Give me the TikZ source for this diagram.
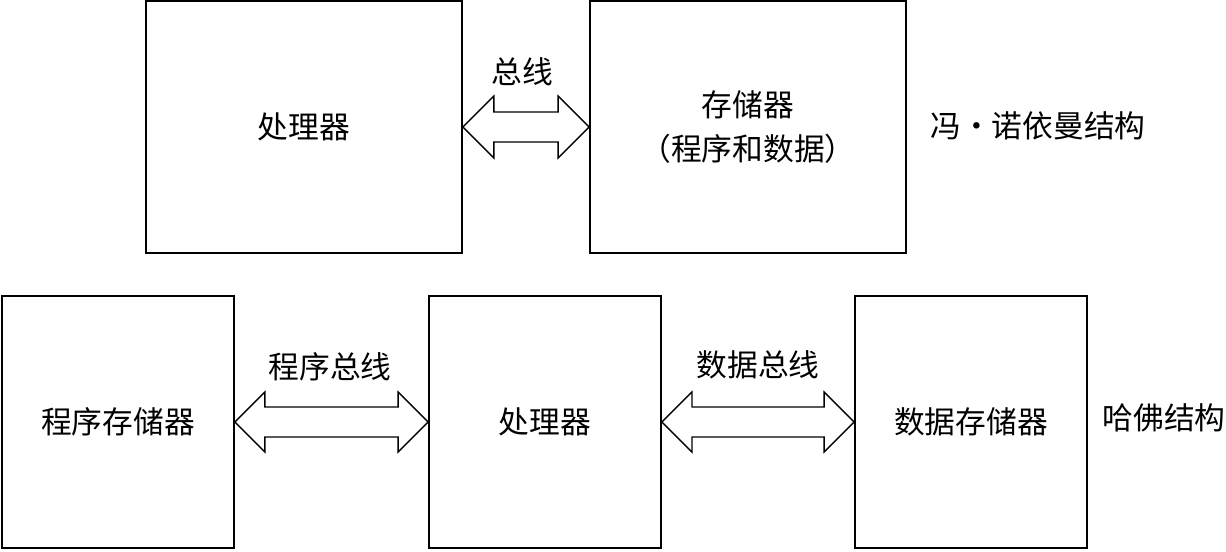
\documentclass[tikz,border=0pt]{standalone}
\usepackage{fontspec}
\setmainfont{Noto Sans CJK SC}
\usepackage{tikz}
\usetikzlibrary{positioning,calc}

\begin{document}
\begin{tikzpicture}[
    x=0.02cm, y=0.02cm,
    bigbox/.style={rectangle, draw, line width=1.1pt, minimum width=6.32cm, minimum height=5.04cm, align=center, font=\fontsize{17.5}{25.5}\selectfont},
    smallbox/.style={rectangle, draw, line width=1.1pt, minimum width=4.64cm, minimum height=5.04cm, align=center, font=\fontsize{17.5}{25.5}\selectfont},
    bus/.style={draw, line width=0.8pt, line join=miter},
    lbl/.style={font=\fontsize{17.5}{21}\selectfont}
]
\useasboundingbox (0,0) rectangle (1226,551);

% Von Neumann
\node[bigbox] (cpu) at (304,424) {处理器};
\node[bigbox] (mem) at (748,424) {存储器\\（程序和数据）};
\node[lbl] (vnlabel) at (1038,425) {冯・诺依曼结构};

\node[lbl] (buslabel) at (522,479) {总线};
\draw[bus] (cpu.east) -- ++(31,31) -- ++(0,-16) -- ($(mem.west)+(-31,15)$) -- ++(0,16) -- (mem.west)
    -- ++(-31,-31) -- ++(0,16) -- ($(cpu.east)+(31,-15)$) -- ++(0,-16) -- cycle;

% Harvard
\node[smallbox] (pmem) at (118,129) {程序存储器};
\node[smallbox] (hcpu) at (545,129) {处理器};
\node[smallbox] (dmem) at (971,129) {数据存储器};
\node[lbl] (hvlabel) at (1164,133) {哈佛结构};

\node[lbl] (pbuslabel) at (330,184) {程序总线};
\node[lbl] (dbuslabel) at (758,186) {数据总线};
\draw[bus] (pmem.east) -- ++(30,30) -- ++(0,-15) -- ($(hcpu.west)+(-30,15)$) -- ++(0,15) -- (hcpu.west)
    -- ++(-30,-30) -- ++(0,15) -- ($(pmem.east)+(30,-15)$) -- ++(0,-15) -- cycle;
\draw[bus] (hcpu.east) -- ++(30,30) -- ++(0,-15) -- ($(dmem.west)+(-30,15)$) -- ++(0,15) -- (dmem.west)
    -- ++(-30,-30) -- ++(0,15) -- ($(hcpu.east)+(30,-15)$) -- ++(0,-15) -- cycle;

\end{tikzpicture}
\end{document}
